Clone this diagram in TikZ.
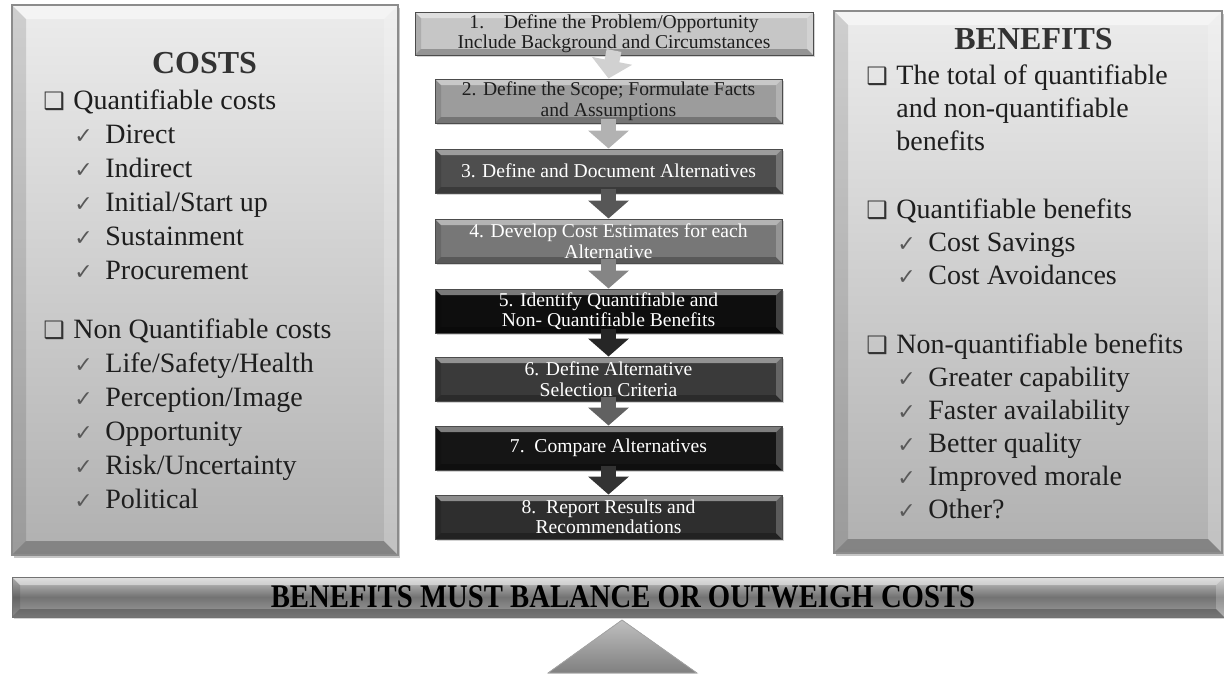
\documentclass[tikz,border=0pt]{standalone}
\usepackage{fontspec}
\usepackage{graphicx}
\setmainfont{Liberation Serif}
\newfontfamily\symfont{DejaVu Sans}
\usepackage{tikz}
\usetikzlibrary{arrows.meta,positioning,shadows}
\definecolor{ink}{HTML}{1E1E1E}
\definecolor{ttl}{HTML}{333333}
\definecolor{paneltop}{HTML}{ECECEC}
\definecolor{panelbot}{HTML}{B0B0B0}
\definecolor{sa}{HTML}{C6C6C6}
\definecolor{sb}{HTML}{9C9C9C}
\definecolor{sc}{HTML}{4E4E4E}
\definecolor{sd}{HTML}{777777}
\definecolor{se}{HTML}{0E0E0E}
\definecolor{sf}{HTML}{3A3A3A}
\definecolor{sg}{HTML}{151515}
\definecolor{sh}{HTML}{2E2E2E}
\newcommand{\bul}{\makebox[15pt][l]{\symfont\fontsize{12}{12}\selectfont\color{black!80}❑}}
\newcommand{\tick}{\hspace*{15.5pt}\makebox[15.5pt][l]{\symfont\fontsize{11}{11}\selectfont\color{black!65}✓}}
\tikzset{
  bevel/.style={path picture={
    \path (path picture bounding box.north west) coordinate (bvNW)
          (path picture bounding box.north east) coordinate (bvNE)
          (path picture bounding box.south west) coordinate (bvSW)
          (path picture bounding box.south east) coordinate (bvSE);
    \fill[white,opacity=.45] (bvNW) -- (bvNE) -- ([shift={(-#1,-#1)}]bvNE) -- ([shift={(#1,-#1)}]bvNW) -- cycle;
    \fill[black,opacity=.25] (bvSW) -- (bvSE) -- ([shift={(-#1,#1)}]bvSE) -- ([shift={(#1,#1)}]bvSW) -- cycle;
    \fill[black,opacity=.12] (bvNW) -- (bvSW) -- ([shift={(#1,#1)}]bvSW) -- ([shift={(#1,-#1)}]bvNW) -- cycle;
    \fill[white,opacity=.22] (bvNE) -- (bvSE) -- ([shift={(-#1,#1)}]bvSE) -- ([shift={(-#1,-#1)}]bvNE) -- cycle;}},
  panel/.style={draw=black!45,line width=.6pt,top color=paneltop,bottom color=panelbot,bevel=7pt,
    drop shadow={shadow xshift=1.2pt,shadow yshift=-1.5pt,opacity=.45}},
  ttlbox/.style={font=\fontsize{16}{16}\selectfont\bfseries,text=ttl,inner sep=0pt},
  listbox/.style={align=left,text=ink,inner sep=0pt,anchor=north west},
  stepbox/.style={draw=black!70,line width=.5pt,align=center,inner sep=1pt,minimum width=173.5pt,minimum height=22pt,
    font=\fontsize{9.8}{10.2}\selectfont,text=white,bevel=3pt,
    drop shadow={shadow xshift=.8pt,shadow yshift=-1pt,opacity=.35}},
  steparrow/.style={line width=7.5pt,-{Triangle[width=20pt,length=9pt]}},
  barbox/.style={draw=black!55,line width=.5pt,top color=black!22,bottom color=black!38,middle color=black!55,
    minimum width=606pt,minimum height=20pt,inner sep=0pt,bevel=4pt,
    font=\fontsize{16.5}{16.5}\selectfont\bfseries,text=black,
    drop shadow={shadow xshift=.8pt,shadow yshift=-1.2pt,opacity=.35}},
  fulcrum/.style={top color=black!25,bottom color=black!50,draw=black!35,line width=.4pt}}
\begin{document}
\begin{tikzpicture}[x=0.5pt,y=-0.5pt]
\useasboundingbox (0,0) rectangle (1224,677);
% side panels
\node[panel,minimum width=193pt,minimum height=275pt] (costs) at (205,280) {};
\node[panel,minimum width=194pt,minimum height=271pt] (bens) at (1028,282) {};
\node[ttlbox] (costsT) at (204.5,63) {COSTS};
\node[ttlbox] (bensT) at (1033.5,39) {BENEFITS};
\node[listbox,font=\fontsize{14}{17}\selectfont] (costsL) at (43,89) {\bul Quantifiable costs\\
  \tick Direct\\ \tick Indirect\\ \tick Initial/Start up\\ \tick Sustainment\\ \tick Procurement\\[12.5pt]
  \bul Non Quantifiable costs\\ \tick Life/Safety/Health\\ \tick Perception/Image\\ \tick Opportunity\\
  \tick Risk/Uncertainty\\ \tick Political};
\node[listbox,font=\fontsize{14}{16.5}\selectfont] (bensL) at (866,64) {\bul The total of quantifiable\\
  \hspace*{15pt}and non-quantifiable\\ \hspace*{15pt}benefits\\[17.5pt]
  \bul Quantifiable benefits\\ \tick Cost Savings\\ \tick Cost Avoidances\\[18pt]
  \bul Non-quantifiable benefits\\ \tick Greater capability\\ \tick Faster availability\\
  \tick Better quality\\ \tick Improved morale\\ \tick Other?};
% process steps
\node[stepbox,fill=sa,text=ink,minimum width=199pt,minimum height=21.5pt] (s1) at (614,33.5)
  {1.\quad Define the Problem/Opportunity\\Include Background and Circumstances};
\node[stepbox,fill=sb,text=ink,below=11.5pt of s1,xshift=-2.75pt] (s2) {2. Define the Scope; Formulate Facts\\and Assumptions};
\node[stepbox,fill=sc,below=12.5pt of s2] (s3) {3. Define and Document Alternatives};
\node[stepbox,fill=sd,below=12.5pt of s3] (s4) {4. Develop Cost Estimates for each\\Alternative};
\node[stepbox,fill=se,below=12.5pt of s4] (s5) {5. Identify Quantifiable and\\Non- Quantifiable Benefits};
\node[stepbox,fill=sf,below=11.5pt of s5] (s6) {6. Define Alternative\\Selection Criteria};
\node[stepbox,fill=sg,below=12pt of s6] (s7) {7.\enspace Compare Alternatives};
\node[stepbox,fill=sh,below=12pt of s7] (s8) {8.\enspace Report Results and\\Recommendations};
\draw[steparrow,draw=black!18] ([yshift=2.5pt]s1.south) -- (s2.north);
\draw[steparrow,draw=black!30] ([yshift=2.5pt]s2.south) -- (s3.north);
\draw[steparrow,draw=black!66] ([yshift=2.5pt]s3.south) -- (s4.north);
\draw[steparrow,draw=black!48] ([yshift=2.5pt]s4.south) -- (s5.north);
\draw[steparrow,draw=black!85] ([yshift=2.5pt]s5.south) -- (s6.north);
\draw[steparrow,draw=black!62] ([yshift=2.5pt]s6.south) -- (s7.north);
\draw[steparrow,draw=black!80] ([yshift=2.5pt]s7.south) -- (s8.north);
% balance beam
\node[barbox] (bar) at (618,597) {\hspace*{5pt}\scalebox{0.87}[1]{BENEFITS MUST BALANCE OR OUTWEIGH COSTS}};
\coordinate (apex) at (622,620);
\fill[fulcrum] (apex) -- (697,673) -- (548,673) -- cycle;
\end{tikzpicture}
\end{document}
